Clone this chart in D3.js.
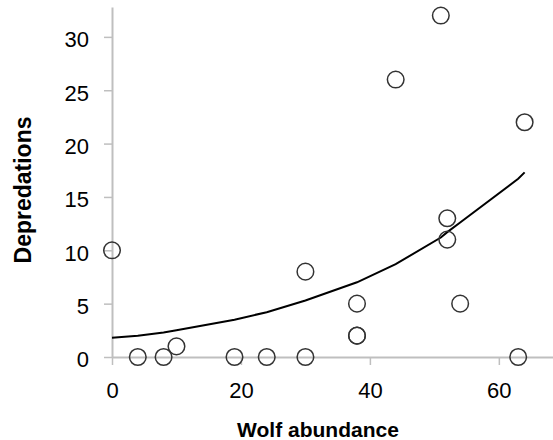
<!DOCTYPE html>
<html>
<head>
<meta charset="utf-8">
<script src="https://cdn.jsdelivr.net/npm/d3@7"></script>
<style>
  html, body { margin: 0; padding: 0; background: #fff; }
  svg { display: block; }
</style>
</head>
<body>
<svg id="chart" width="553" height="440"></svg>
<script>
// Observed data (wolf abundance vs depredations)
const wolfAbundance = [0, 4, 8, 10, 19, 24, 30, 30, 38, 38, 38, 44, 51, 52, 52, 54, 63, 64];
const depredations  = [10, 0, 0, 1, 0, 0, 0, 8, 5, 2, 2, 26, 32, 11, 13, 5, 0, 22];

// Fitted curve
const curveX = [0, 4, 8, 10, 19, 24, 30, 38, 44, 51, 52, 54, 63, 64];
const curveY = [1.8, 2.0, 2.3, 2.5, 3.5, 4.2, 5.3, 7.0, 8.7, 11.2, 11.7, 12.6, 16.7, 17.3];

const xTicks = [0, 20, 40, 60];
const yTicks = [0, 5, 10, 15, 20, 25, 30];

const xTitle = "Wolf abundance";
const yTitle = "Depredations";

const svg = d3.select("#chart");
const axisColor = "#bfbfbf";
const font = "'Liberation Sans', Arial, sans-serif";

const x = d3.scaleLinear().domain([0, 68.4]).range([112, 553]);
const y = d3.scaleLinear().domain([0, 32.8]).range([357, 7]);

// Y axis
const gy = svg.append("g")
  .attr("transform", `translate(${x(0)},0)`)
  .call(d3.axisLeft(y).tickValues(yTicks).tickSize(8).tickSizeOuter(0).tickPadding(15).tickFormat(d3.format("d")));
// X axis
const gx = svg.append("g")
  .attr("transform", `translate(0,${y(0)})`)
  .call(d3.axisBottom(x).tickValues(xTicks).tickSize(8).tickSizeOuter(0).tickPadding(17).tickFormat(d3.format("d")));

[gx, gy].forEach(g => {
  g.select(".domain").attr("stroke", axisColor).attr("stroke-width", 2);
  g.selectAll(".tick line").attr("stroke", axisColor).attr("stroke-width", 1.5);
  g.selectAll(".tick text").attr("fill", "#000").style("font-family", font).style("font-size", "22px");
});
gy.selectAll(".tick text").attr("dy", "0.45em");

// Curve
const line = d3.line().x(d => x(d[0])).y(d => y(d[1]));
svg.append("path")
  .datum(curveX.map((v, i) => [v, curveY[i]]))
  .attr("d", line)
  .attr("fill", "none")
  .attr("stroke", "#000")
  .attr("stroke-width", 2);

// Points
svg.append("g").selectAll("circle")
  .data(wolfAbundance.map((v, i) => [v, depredations[i]]))
  .join("circle")
  .attr("cx", d => x(d[0]))
  .attr("cy", d => y(d[1]))
  .attr("r", 8.3)
  .attr("fill", "none")
  .attr("stroke", "#333")
  .attr("stroke-width", 1.5);

// Titles
svg.append("text")
  .attr("x", 318).attr("y", 437)
  .attr("text-anchor", "middle")
  .style("font-family", font).style("font-weight", "bold").style("font-size", "21px")
  .text(xTitle);

svg.append("text")
  .attr("transform", "translate(31,190) rotate(-90)")
  .attr("text-anchor", "middle")
  .style("font-family", font).style("font-weight", "bold").style("font-size", "23px")
  .text(yTitle);
</script>
</body>
</html>
